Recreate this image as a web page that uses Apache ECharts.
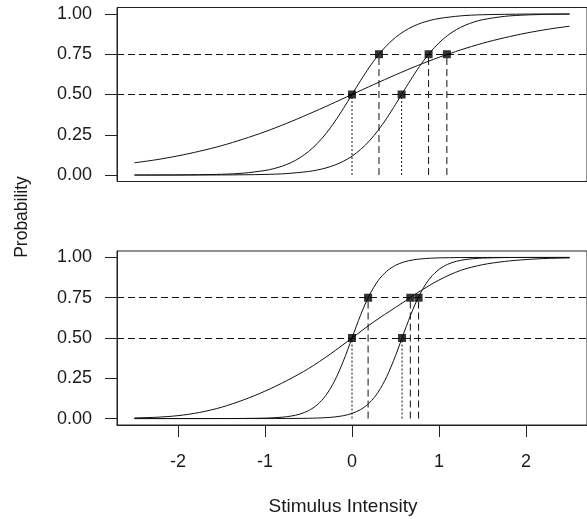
<!DOCTYPE html>
<html>
<head>
<meta charset="utf-8">
<script src="https://cdn.jsdelivr.net/npm/echarts@6/dist/echarts.min.js"></script>
<style>
html,body{margin:0;padding:0;background:#fff;}
#chart{width:587px;height:519px;}
</style>
</head>
<body>
<div id="chart"></div>
<script>
// ---- tick labels ----
const xTicks = [-2, -1, 0, 1, 2];
const yTicks = [0, 0.25, 0.5, 0.75, 1];
const refLevels = [0.5, 0.75];
const xTitle = 'Stimulus Intensity';
const yTitle = 'Probability';

// ---- top panel curves ----
const topAX = [-2.5,-2,-1.5,-1.25,-1,-0.9,-0.8,-0.7,-0.6,-0.5,-0.4,-0.3,-0.2,-0.1,0,0.1,0.2,0.3,0.4,0.5,0.6,0.7,0.8,0.9,1,1.25,1.5,2,2.5];
const topAY = [0.0001,0.0008,0.0049,0.0118,0.0282,0.0397,0.0556,0.0774,0.1068,0.1456,0.1953,0.2569,0.330,0.4124,0.5,0.5876,0.670,0.7431,0.8047,0.8544,0.8932,0.9226,0.9444,0.9603,0.9718,0.9882,0.9951,0.9992,0.9999];
const topBX = [-2.5,-1.5,-1,-0.75,-0.5,-0.4,-0.3,-0.2,-0.1,0,0.1,0.2,0.3,0.4,0.5,0.6,0.7,0.8,0.9,1,1.1,1.2,1.3,1.4,1.5,1.75,2,2.25,2.5];
const topBY = [0,0.0007,0.0038,0.0093,0.0221,0.0312,0.0439,0.0615,0.0853,0.1173,0.1592,0.2125,0.2777,0.3539,0.4384,0.5265,0.6130,0.693,0.7628,0.8209,0.8673,0.9029,0.9298,0.9497,0.9641,0.9849,0.9937,0.9974,0.9989];
const topCX = [-2.5,-2.25,-2,-1.75,-1.5,-1.25,-1,-0.75,-0.5,-0.25,0,0.25,0.5,0.75,1,1.25,1.5,1.75,2,2.25,2.5];
const topCY = [0.076,0.095,0.119,0.148,0.182,0.223,0.269,0.321,0.378,0.438,0.5,0.562,0.622,0.679,0.731,0.777,0.818,0.852,0.881,0.905,0.924];
const topThreshX = [0, 0.31, 0.57, 0.88, 1.09];
const topThreshY = [0.5, 0.75, 0.5, 0.75, 0.75];

// ---- bottom panel curves ----
const botDX = [-2.5,-1.5,-1,-0.8,-0.7,-0.6,-0.5,-0.4,-0.3,-0.2,-0.1,0,0.1,0.2,0.3,0.4,0.5,0.6,0.7,0.8,1,1.5,2.5];
const botDY = [0,0.0001,0.0026,0.0086,0.0154,0.0275,0.0488,0.0850,0.1441,0.2336,0.3557,0.5,0.6443,0.7664,0.8559,0.9150,0.9512,0.9725,0.9846,0.9914,0.9974,0.9999,1];
const botEX = [-2.5,-2.25,-2,-1.75,-1.5,-1.25,-1,-0.75,-0.5,-0.25,0,0.25,0.5,0.67,0.75,1,1.25,1.5,1.75,2,2.25,2.5];
const botEY = [0.004,0.008,0.018,0.038,0.07,0.115,0.17,0.235,0.31,0.40,0.5,0.60,0.69,0.75,0.78,0.86,0.92,0.955,0.975,0.987,0.994,0.997];
const botFX = [-2.5,-1,-0.5,-0.3,-0.2,-0.1,0,0.1,0.2,0.3,0.4,0.5,0.6,0.7,0.8,0.9,1,1.1,1.2,1.3,1.4,1.5,1.75,2,2.5];
const botFY = [0,0.0001,0.0017,0.0055,0.0099,0.0178,0.0318,0.0561,0.0973,0.1633,0.2612,0.3903,0.5371,0.6776,0.7920,0.8734,0.9258,0.9577,0.9762,0.9867,0.9926,0.9959,0.9991,0.9998,1];
const botThreshX = [0, 0.185, 0.575, 0.67, 0.765];
const botThreshY = [0.5, 0.75, 0.5, 0.75, 0.75];

// ---- build ----
const FONT = 'Liberation Sans, Arial, sans-serif';
const INK = '#111';
const TXT = '#1a1a1a';
const zip = (xs, ys) => xs.map((x, i) => [x, ys[i]]);

function curve(xs, ys, gi) {
  return { type: 'line', xAxisIndex: gi, yAxisIndex: gi, data: zip(xs, ys),
    smooth: 0.3, showSymbol: false, symbol: 'none', silent: true,
    lineStyle: { color: INK, width: 1 }, z: 3 };
}
function panelSeries(gi, curves, tx, ty) {
  const s = curves.map(c => curve(c[0], c[1], gi));
  tx.forEach((x, i) => {
    s.push({ type: 'line', xAxisIndex: gi, yAxisIndex: gi, data: [[x, 0], [x, ty[i]]],
      symbol: 'none', silent: true, z: 2,
      lineStyle: { color: INK, width: 1, type: ty[i] === 0.5 ? [2, 2] : [7, 4] } });
  });
  s.push({ type: 'scatter', xAxisIndex: gi, yAxisIndex: gi, data: zip(tx, ty),
    symbol: 'rect', symbolSize: 8, itemStyle: { color: '#000' }, z: 5, silent: true,
    markLine: { silent: true, symbol: ['none', 'none'], label: { show: false },
      lineStyle: { color: INK, width: 1, type: [7, 4] },
      data: refLevels.map(v => ({ yAxis: v })) } });
  return s;
}

const gridBase = { left: 117, width: 476, height: 174, show: true, borderColor: '#222', borderWidth: 1, backgroundColor: 'transparent' };
const yAxisBase = (gi) => ({
  type: 'value', gridIndex: gi, min: -0.04, max: 1.04,
  splitLine: { show: false },
  axisLine: { show: true, onZero: false, lineStyle: { color: '#222', width: 1 } },
  axisTick: { show: true, length: 12, lineStyle: { color: '#222' }, customValues: yTicks },
  axisLabel: { show: true, customValues: yTicks, margin: 25, fontSize: 18, fontFamily: FONT, color: TXT,
    formatter: v => v.toFixed(2) }
});

const option = {
  animation: false,
  backgroundColor: '#fff',
  grid: [Object.assign({ top: 7.5 }, gridBase), Object.assign({ top: 251 }, gridBase)],
  xAxis: [
    { type: 'value', gridIndex: 0, min: -2.7, max: 2.7, splitLine: { show: false },
      axisLine: { show: false, onZero: false }, axisTick: { show: false }, axisLabel: { show: false } },
    { type: 'value', gridIndex: 1, min: -2.7, max: 2.7, splitLine: { show: false },
      axisLine: { show: true, onZero: false, lineStyle: { color: '#222', width: 1 } },
      axisTick: { show: true, length: 12, lineStyle: { color: '#222' }, customValues: xTicks },
      axisLabel: { show: true, customValues: xTicks, margin: 28, fontSize: 18, fontFamily: FONT, color: TXT } }
  ],
  yAxis: [yAxisBase(0), yAxisBase(1)],
  graphic: [
    { type: 'text', x: 22, y: 217, rotation: Math.PI / 2,
      style: { text: yTitle, font: '17.5px ' + FONT, fill: TXT, align: 'center', verticalAlign: 'middle' } },
    { type: 'text', x: 343, y: 507,
      style: { text: xTitle, font: '19px ' + FONT, fill: TXT, align: 'center', verticalAlign: 'middle' } }
  ],
  series: [].concat(
    panelSeries(0, [[topAX, topAY], [topBX, topBY], [topCX, topCY]], topThreshX, topThreshY),
    panelSeries(1, [[botDX, botDY], [botEX, botEY], [botFX, botFY]], botThreshX, botThreshY)
  )
};

const chart = echarts.init(document.getElementById('chart'), null, { renderer: 'canvas' });
chart.setOption(option);
</script>
</body>
</html>
